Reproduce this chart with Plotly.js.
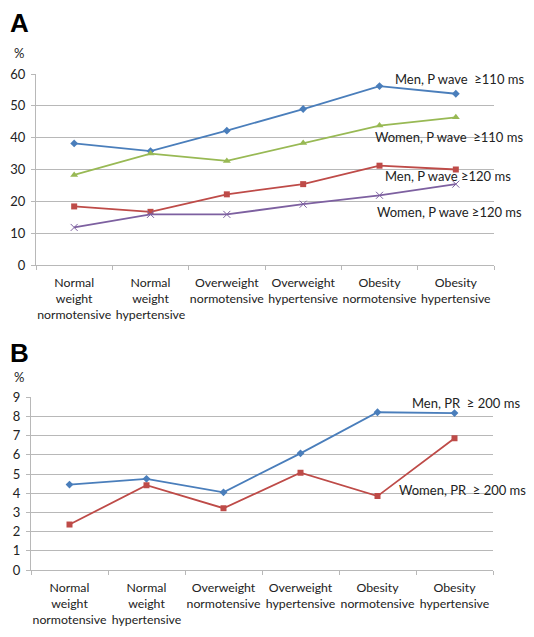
<!DOCTYPE html>
<html><head><meta charset="utf-8">
<script src="https://cdn.plot.ly/plotly-3.0.1.min.js"></script>
<style>html,body{margin:0;padding:0;background:#fff}#chart{width:534px;height:637px}</style>
</head><body><div id="chart"></div>
<script>
const categories = [
  "Normal<br>weight<br>normotensive",
  "Normal<br>weight<br>hypertensive",
  "Overweight<br>normotensive",
  "Overweight<br>hypertensive",
  "Obesity<br>normotensive",
  "Obesity<br>hypertensive"
];
const menP110 = [38.2, 35.8, 42.2, 49.0, 56.2, 53.8];
const womenP110 = [28.3, 35.0, 32.7, 38.3, 43.8, 46.4];
const menP120 = [18.4, 16.7, 22.2, 25.4, 31.2, 30.0];
const womenP120 = [11.8, 15.9, 15.9, 19.1, 21.9, 25.4];
const menPR200 = [4.45, 4.75, 4.05, 6.08, 8.22, 8.18];
const womenPR200 = [2.37, 4.42, 3.22, 5.07, 3.85, 6.87];
const yTicksA = [0, 10, 20, 30, 40, 50, 60];
const yTicksB = [0, 1, 2, 3, 4, 5, 6, 7, 8, 9];

const FONT = "Lato, 'Open Sans', sans-serif";
const BLUE = "#4a7ebb", RED = "#be4b48", GREEN = "#98b954", PURPLE = "#7d60a0";

function tr(y, color, symbol, xa, ya, msize) {
  return {x: categories, y: y, xaxis: xa, yaxis: ya, type: "scatter", mode: "lines+markers",
    line: {color: color, width: 1.8},
    marker: {color: color, symbol: symbol, size: msize || 6, line: {color: color, width: symbol.indexOf("x") === 0 ? 1 : 0}},
    hoverinfo: "none", showlegend: false};
}

const data = [
  tr(menP110, BLUE, "diamond", "x", "y", 6),
  tr(womenP110, GREEN, "triangle-up", "x", "y", 7),
  tr(menP120, RED, "square", "x", "y", 6),
  tr(womenP120, PURPLE, "x-thin", "x", "y", 7),
  tr(menPR200, BLUE, "diamond", "x2", "y2", 6),
  tr(womenPR200, RED, "square", "x2", "y2", 6)
];

const gridc = "#b8b8b8";
function xax(domain, anchor) {
  return {domain: domain, anchor: anchor, type: "category", range: [-0.5, 5.5],
    showgrid: false, showline: true, linecolor: gridc, linewidth: 1,
    ticks: "outside", tickson: "boundaries", ticklen: 4, tickcolor: gridc, tickangle: 0,
    ticklabelstandoff: 6,
    tickfont: {family: FONT, size: 12.3, color: "#222"}, zeroline: false, fixedrange: true};
}
function yax(domain, anchor, range, ticks) {
  return {domain: domain, anchor: anchor, range: range, tickvals: ticks, ticktext: ticks.map(String),
    showgrid: true, gridcolor: gridc, gridwidth: 1, showline: true, linecolor: gridc,
    ticks: "outside", ticklen: 4, tickcolor: gridc, zeroline: false, ticklabelstandoff: 3,
    tickfont: {family: FONT, size: 13, color: "#222"}, fixedrange: true};
}

const H = 637, W = 534;
const ann = (text, px, py, size, bold) => ({text: text, xref: "paper", yref: "paper",
  x: px / W, y: 1 - py / H, xanchor: "left", yanchor: "middle", showarrow: false,
  font: {family: bold ? "Liberation Sans, Arial, sans-serif" : FONT, size: size, color: bold ? "#000" : "#222"}});

const layout = {
  width: W, height: H, margin: {l: 0, r: 0, t: 0, b: 0},
  paper_bgcolor: "#fff", plot_bgcolor: "#fff",
  xaxis: xax([36 / W, 494 / W], "y"),
  yaxis: yax([1 - 265 / H, 1 - 74 / H], "x", [0, 60], yTicksA),
  xaxis2: xax([31 / W, 493 / W], "y2"),
  yaxis2: yax([1 - 570 / H, 1 - 397.3 / H], "x2", [0, 9], yTicksB),
  annotations: [
    ann("<b>A</b>", 8, 23, 26, true),
    ann("%", 12, 53, 13, false),
    ann("<b>B</b>", 8, 353, 26, true),
    ann("%", 12, 377, 13, false),
    ann("Men, P wave  \u2265110 ms", 393, 79, 13),
    ann("Women, P wave  \u2265110 ms", 373, 137, 13),
    ann("Men, P wave \u2265120 ms", 383, 176, 13),
    ann("Women, P wave \u2265120 ms", 375, 212, 13),
    ann("Men, PR  \u2265 200 ms", 410, 403, 13),
    ann("Women, PR  \u2265 200 ms", 397, 490, 13)
  ]
};

Plotly.newPlot("chart", data, layout, {displayModeBar: false, staticPlot: true});
</script></body></html>
